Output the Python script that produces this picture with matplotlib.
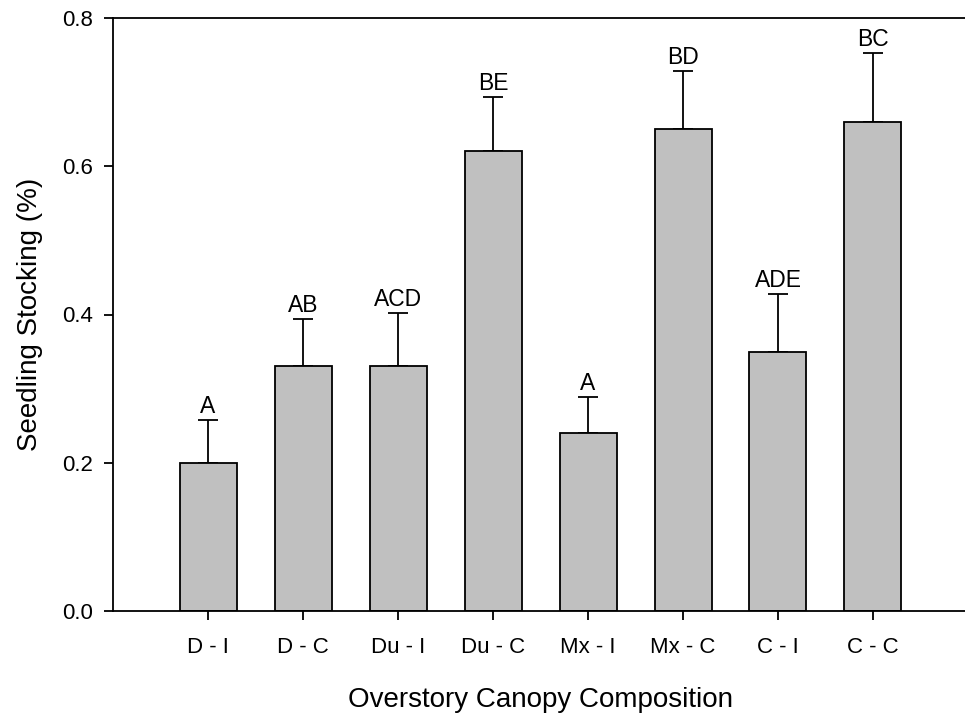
import numpy as np
import matplotlib
matplotlib.use('Agg')
import matplotlib.pyplot as plt

plt.rcParams['font.family'] = ['Liberation Sans', 'DejaVu Sans']

# data
groups = ['D - I', 'D - C', 'Du - I', 'Du - C', 'Mx - I', 'Mx - C', 'C - I', 'C - C']
stocking = [0.20, 0.33, 0.33, 0.62, 0.24, 0.65, 0.35, 0.66]
err_upper = [0.058, 0.064, 0.072, 0.073, 0.049, 0.078, 0.078, 0.093]
letters = ['A', 'AB', 'ACD', 'BE', 'A', 'BD', 'ADE', 'BC']

fig = plt.figure(figsize=(9.65, 7.17), dpi=100)
ax = fig.add_axes([113/965, 106/717, 855/965, 593/717])

x = np.arange(len(groups))
yerr = [np.zeros(len(groups)), err_upper]
ax.bar(x, stocking, width=0.6, color='#c0c0c0', edgecolor='black', linewidth=1.3, zorder=2)
ax.errorbar(x, stocking, yerr=yerr, fmt='none', ecolor='black', elinewidth=1.3,
            capsize=7, capthick=1.3, zorder=1)

for xi, v, e, lab in zip(x, stocking, err_upper, letters):
    ax.annotate(lab, (xi, v + e), xytext=(0, 1.5), textcoords='offset points',
                ha='center', va='bottom', fontsize=16.5)

ax.set_xlim(-1, 8)
ax.set_ylim(0, 0.8)
ax.set_yticks([0.0, 0.2, 0.4, 0.6, 0.8])
ax.set_yticklabels(['0.0', '0.2', '0.4', '0.6', '0.8'])
ax.set_xticks(x)
ax.set_xticklabels(groups)
ax.tick_params(direction='out', length=6.5, width=1.3, labelsize=16, pad=8)
ax.tick_params(axis='x', pad=12)
for s in ['left', 'bottom', 'top']:
    ax.spines[s].set_linewidth(1.3)
ax.spines['right'].set_visible(False)

ax.set_xlabel('Overstory Canopy Composition', fontsize=20, labelpad=21)
ax.set_ylabel('Seedling Stocking (%)', fontsize=20, labelpad=14)

fig.savefig('out.png', dpi=100)
